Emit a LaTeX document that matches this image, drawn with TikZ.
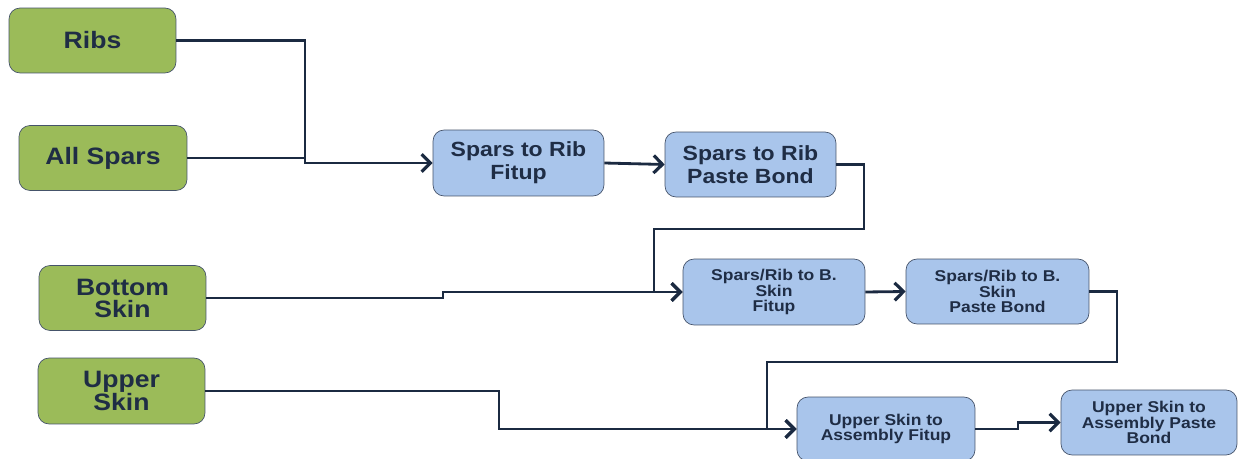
\documentclass[tikz,border=0pt]{standalone}
\usepackage{fontspec}
\setmainfont[FakeStretch=1.12]{Liberation Sans}
\usetikzlibrary{arrows.meta}

\definecolor{partgreen}{HTML}{9BBB59}
\definecolor{stageblue}{HTML}{A9C5EB}
\definecolor{boxedge}{HTML}{45536A}
\definecolor{flowline}{HTML}{1B2A41}
\definecolor{labeltext}{HTML}{1F2D45}

\tikzset{
	part/.style={draw=boxedge, fill=partgreen, rounded corners=0.22cm, minimum width=3.34cm,
		minimum height=1.3cm, inner sep=0pt, align=center, text=labeltext,
		font=\fontsize{13.5}{12.5}\selectfont\bfseries},
	stage/.style={draw=boxedge, fill=stageblue, rounded corners=0.22cm, minimum height=1.3cm,
		inner sep=0pt, align=center, text=labeltext},
	bigtext/.style={font=\fontsize{11.7}{13}\selectfont\bfseries},
	smalltext/.style={font=\fontsize{8.9}{8.8}\selectfont\bfseries},
	wire/.style={draw=flowline, line width=1.6pt},
	flow/.style={wire, -{Straight Barb[length=5pt,width=10pt,line width=1.8pt]}}
}

\begin{document}
\begin{tikzpicture}[x=0.02cm, y=-0.02cm]
	\useasboundingbox (0,0) rectangle (1241,459);

	% raw parts
	\node [part] (ribs) at (92.5,40.5) {Ribs};
	\node [part, minimum width=3.36cm] (spars) at (103,158) {All Spars};
	\node [part] (bskin) at (122.5,298) {Bottom\\Skin};
	\node [part, minimum width=3.34cm, minimum height=1.32cm] (uskin) at (121.5,391) {Upper\\Skin};

	% assembly stages
	\node [stage, bigtext, minimum width=3.42cm, minimum height=1.32cm] (fit1) at (518.5,163) {Spars to Rib\\Fitup};
	\node [stage, bigtext, minimum width=3.42cm] (bond1) at (750.5,164.5) {Spars to Rib\\Paste Bond};
	\node [stage, smalltext, minimum width=3.64cm, minimum height=1.32cm] (fit2) at (774,292) {Spars/Rib to B.\\Skin\\Fitup};
	\node [stage, smalltext, minimum width=3.66cm] (bond2) at (997.5,291.5) {Spars/Rib to B.\\Skin\\Paste Bond};
	\node [stage, smalltext, minimum width=3.56cm, minimum height=1.28cm] (fit3) at (886,429) {Upper Skin to\\Assembly Fitup};
	\node [stage, smalltext, minimum width=3.52cm] (bond3) at (1149,422.5) {Upper Skin to\\Assembly Paste\\Bond};

	% bend points
	\coordinate (j1) at (305,163);
	\coordinate (j2) at (864,229);
	\coordinate (j3) at (654,292);
	\coordinate (j4) at (443,298);
	\coordinate (j5) at (1117,362);
	\coordinate (j6) at (767,429);
	\coordinate (j7) at (499,429);
	\coordinate (j8) at (1018,429);

	% ribs and spars
	\draw [wire] (spars.east) -| (j1);
	\draw [flow] (ribs.east) -| (j1) -- (fit1.west);
	\draw [flow] (fit1.east) -- (bond1.west);

	% bottom skin
	\draw [flow] (bond1.east) -| (j2) -| (j3) -- (fit2.west);
	\draw [flow] (bskin.east) -- (j4) |- (fit2.west);
	\draw [flow] (fit2.east) -- (bond2.west);

	% upper skin
	\draw [flow] (bond2.east) -| (j5) -| (j6) -- (fit3.west);
	\draw [flow] (uskin.east) -| (j7) -- (fit3.west);
	\draw [flow] (fit3.east) -- (j8) |- (bond3.west);
\end{tikzpicture}
\end{document}
